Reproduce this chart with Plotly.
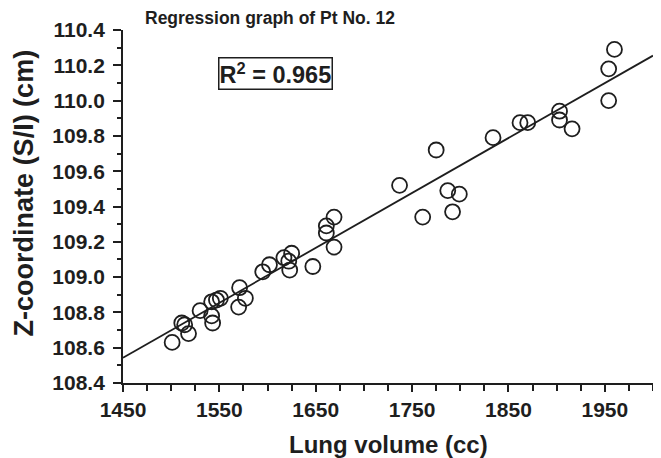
import plotly.graph_objects as go

# Data
lung_volume = [1501, 1511, 1514, 1518, 1530, 1542, 1547, 1551, 1542, 1543,
               1571, 1570, 1577, 1595, 1602, 1617, 1625, 1622, 1623, 1647,
               1661, 1661, 1669, 1669, 1737, 1761, 1775, 1787, 1792, 1799,
               1834, 1862, 1870, 1903, 1903, 1916, 1954, 1960, 1954]
z_coord = [108.63, 108.74, 108.73, 108.68, 108.81, 108.86, 108.87, 108.88, 108.78, 108.74,
           108.94, 108.83, 108.88, 109.03, 109.07, 109.11, 109.135, 109.09, 109.04, 109.06,
           109.29, 109.25, 109.34, 109.17, 109.52, 109.34, 109.72, 109.49, 109.37, 109.47,
           109.79, 109.875, 109.875, 109.94, 109.89, 109.84, 110.18, 110.29, 110.00]
fit_x = [1450, 2000]
fit_y = [108.543, 110.255]
r_squared = "0.965"
title_text = "Regression graph of Pt No. 12"
x_title = "Lung volume (cc)"
y_title = "Z-coordinate (S/I) (cm)"
x_tickvals = [1450, 1550, 1650, 1750, 1850, 1950]
y_tickvals = [108.4, 108.6, 108.8, 109.0, 109.2, 109.4, 109.6, 109.8, 110.0, 110.2, 110.4]

INK = "#1e1e1e"
FONT = "Liberation Sans, Arial, sans-serif"

# the page body has an 8px default margin, so the figure is sized/placed to compensate
fig = go.Figure()
fig.add_trace(go.Scatter(
    x=fit_x, y=fit_y, mode="lines",
    line=dict(color=INK, width=1.8), showlegend=False, hoverinfo="skip"))
fig.add_trace(go.Scatter(
    x=lung_volume, y=z_coord, mode="markers",
    marker=dict(symbol="circle-open", size=15, color=INK, line=dict(width=1.8, color=INK)),
    showlegend=False))

fig.update_layout(
    width=653, height=450,
    margin=dict(l=115, r=8, t=22, b=75),
    paper_bgcolor="white", plot_bgcolor="white",
    font=dict(family=FONT, color=INK),
    xaxis=dict(
        range=[1450, 2000], showgrid=False, zeroline=False,
        showline=True, linecolor=INK, linewidth=1.8,
        tickmode="array", tickvals=x_tickvals,
        ticktext=[f"<b>{v}</b>" for v in x_tickvals],
        ticks="outside", ticklen=7, tickwidth=1.5, tickcolor=INK,
        ticklabelstandoff=0,
        tickfont=dict(size=21, family=FONT, color=INK),
        minor=dict(dtick=25, tick0=1450, ticks="outside", ticklen=6, tickwidth=1.5,
                   tickcolor=INK, showgrid=False),
    ),
    yaxis=dict(
        range=[108.4, 110.4], showgrid=False, zeroline=False,
        showline=True, linecolor=INK, linewidth=1.8,
        tickmode="array", tickvals=y_tickvals,
        ticktext=[f"<b>{v:.1f}</b>" for v in y_tickvals],
        ticks="outside", ticklen=8, tickwidth=1.5, tickcolor=INK,
        ticklabelstandoff=4,
        tickfont=dict(size=21, family=FONT, color=INK),
        minor=dict(dtick=0.1, tick0=108.4, ticks="outside", ticklen=4, tickwidth=1.5,
                   tickcolor=INK, showgrid=False),
    ),
    annotations=[
        dict(text=f"<b>{title_text}</b>", xref="paper", yref="paper",
             x=0.038, y=1.035, xanchor="left", yanchor="middle",
             showarrow=False, font=dict(size=17.5, family=FONT, color=INK)),
        dict(text=f"<b>R<sup>2</sup> = {r_squared}</b>", xref="paper", yref="paper",
             x=0.2877, y=0.8768, xanchor="center", yanchor="middle",
             showarrow=False, font=dict(size=23.5, family=FONT, color=INK),
             bordercolor=INK, borderwidth=1.5, borderpad=0, bgcolor="white"),
        dict(text=f"<b>{x_title}</b>", xref="paper", yref="paper",
             x=0.501, y=-0.1756, xanchor="center", yanchor="middle",
             showarrow=False, font=dict(size=24, family=FONT, color=INK)),
        dict(text=f"<b>{y_title}</b>", xref="paper", yref="paper",
             x=-0.1868, y=0.54, xanchor="center", yanchor="middle", textangle=-90,
             showarrow=False, font=dict(size=27, family=FONT, color=INK)),
    ],
)

fig.write_html("out.html")
